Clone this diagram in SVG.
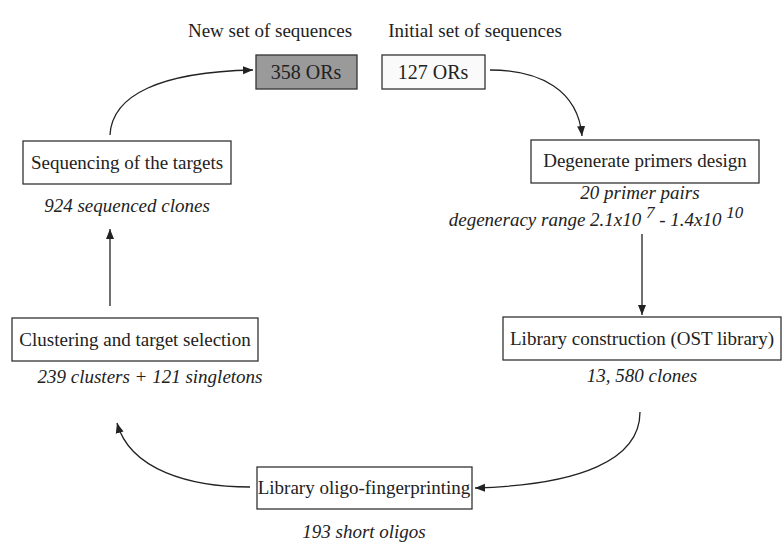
<svg xmlns="http://www.w3.org/2000/svg" width="784" height="543" viewBox="0 0 784 543">
<style>
.box{fill:#fff;stroke:#333;stroke-width:1.3}
text{font-family:'Liberation Serif','Times New Roman',Times,'DejaVu Serif',serif;font-size:19px;fill:#222;text-anchor:middle}
.i{font-style:italic}
.sup{font-size:17px}
.c{fill:none;stroke:#222;stroke-width:1.3}
</style>
<defs>
<marker id="ah" viewBox="0 0 10 10" refX="10" refY="5" markerWidth="10" markerHeight="10" markerUnits="userSpaceOnUse" orient="auto">
<path d="M0,1 L10,5 L0,9 Z" fill="#222"/>
</marker>
</defs>
<rect width="784" height="543" fill="#fff"/>
<text x="270" y="37">New set of sequences</text>
<text x="475" y="37">Initial set of sequences</text>
<g id="n358">
<rect x="256" y="55" width="101" height="34" fill="#9a9a9a" stroke="#333" stroke-width="1.3"/>
<text x="306" y="79" style="font-size:20px">358 ORs</text>
</g>
<g id="n127">
<rect class="box" x="382" y="55" width="103" height="34" style="fill:#fafafa"/>
<text x="433" y="79" style="font-size:20px">127 ORs</text>
</g>
<g id="seq">
<rect class="box" x="23" y="141" width="208" height="43"/>
<text x="127" y="169">Sequencing of the targets</text>
<text class="i" x="127" y="212">924 sequenced clones</text>
</g>
<g id="deg">
<rect class="box" x="531" y="140" width="228" height="43"/>
<text x="645" y="167">Degenerate primers design</text>
<text class="i" x="640" y="199">20 primer pairs</text>
<text class="i" x="596" y="226">degeneracy range 2.1x10 <tspan class="sup" dy="-8">7</tspan><tspan dy="8"> - 1.4x10 </tspan><tspan class="sup" dy="-8">10</tspan></text>
</g>
<g id="clu">
<rect class="box" x="12" y="318" width="246" height="43"/>
<text x="135" y="346">Clustering and target selection</text>
<text class="i" x="150" y="383">239 clusters + 121 singletons</text>
</g>
<g id="lib">
<rect class="box" x="503" y="317" width="278" height="43"/>
<text x="642" y="345">Library construction (OST library)</text>
<text class="i" x="642" y="382">13, 580 clones</text>
</g>
<g id="oligo">
<rect class="box" x="257" y="467" width="215" height="42"/>
<text x="364" y="494">Library oligo-fingerprinting</text>
<text class="i" x="364" y="538">193 short oligos</text>
</g>
<g id="connectors">
<path class="c" d="M110,135 C112,95 160,72 253,70" marker-end="url(#ah)"/>
<path class="c" d="M490,70 C540,70 578,90 582,136" marker-end="url(#ah)"/>
<path class="c" d="M642,234 L642,315" marker-end="url(#ah)"/>
<path class="c" d="M110,306 L110,229" marker-end="url(#ah)"/>
<path class="c" d="M640,412 C640,460 580,485 475,488" marker-end="url(#ah)"/>
<path class="c" d="M250,487 C190,487 130,470 117,423" marker-end="url(#ah)"/>
</g>
</svg>
